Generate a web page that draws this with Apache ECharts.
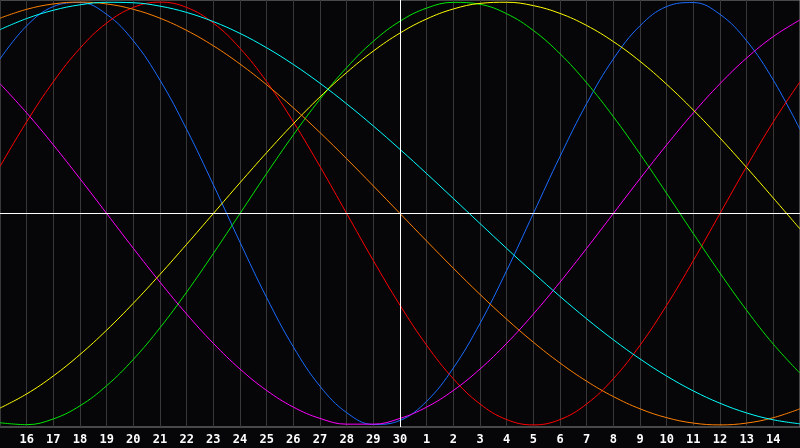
<!DOCTYPE html>
<html>
<head>
<meta charset="utf-8">
<script src="https://cdn.jsdelivr.net/npm/echarts@6/dist/echarts.min.js"></script>
<style>
html,body{margin:0;padding:0;background:#060609;}
#chart{width:800px;height:448px;}
</style>
</head>
<body>
<div id="chart"></div>
<script>
const days = ['15','16','17','18','19','20','21','22','23','24','25','26','27','28','29','30',
  '1','2','3','4','5','6','7','8','9','10','11','12','13','14','15'];
const todayIndex = 15;

// cycle values per day (range -1..1)
const blue23 = [0.731,0.888,0.979,0.998,0.942,0.817,0.631,0.398,0.136,-0.136,-0.398,-0.631,-0.817,-0.942,-0.998,-0.979,-0.888,-0.731,-0.520,-0.270,0,0.270,0.520,0.731,0.888,0.979,0.998,0.942,0.817,0.631,0.398];
const red28 = [0.2225,0.4339,0.6235,0.7818,0.9010,0.9749,1,0.9749,0.9010,0.7818,0.6235,0.4339,0.2225,0,-0.2225,-0.4339,-0.6235,-0.7818,-0.9010,-0.9749,-1,-0.9749,-0.9010,-0.7818,-0.6235,-0.4339,-0.2225,0,0.2225,0.4339,0.6235];
const green33 = [-0.9898,-0.9989,-0.9718,-0.9096,-0.8146,-0.6901,-0.5406,-0.3717,-0.1893,0,0.1893,0.3717,0.5406,0.6901,0.8146,0.9096,0.9718,0.9989,0.9898,0.9450,0.8660,0.7557,0.6182,0.4582,0.2817,0.0951,-0.0951,-0.2817,-0.4582,-0.6182,-0.7557];
const magenta38 = [0.6142,0.4759,0.3247,0.1646,0,-0.1646,-0.3247,-0.4759,-0.6142,-0.7357,-0.8372,-0.9158,-0.9694,-0.9966,-0.9966,-0.9694,-0.9158,-0.8372,-0.7357,-0.6142,-0.4759,-0.3247,-0.1646,0,0.1646,0.3247,0.4759,0.6142,0.7357,0.8372,0.9158];
const yellow43 = [-0.9204,-0.8536,-0.7685,-0.6671,-0.5517,-0.4245,-0.2881,-0.1456,0,0.1456,0.2881,0.4245,0.5517,0.6671,0.7685,0.8536,0.9204,0.9675,0.9940,0.9993,0.9834,0.9465,0.8894,0.8133,0.7200,0.6111,0.4894,0.3572,0.2174,0.0730,-0.0730];
const orange48 = [0.9239,0.9659,0.9914,1,0.9914,0.9659,0.9239,0.8660,0.7934,0.7071,0.6088,0.5,0.3827,0.2588,0.1305,0,-0.1305,-0.2588,-0.3827,-0.5,-0.6088,-0.7071,-0.7934,-0.8660,-0.9239,-0.9659,-0.9914,-1,-0.9914,-0.9659,-0.9239];
const cyan53 = [0.8699,0.9222,0.9615,0.9872,0.9991,0.9970,0.9809,0.9511,0.9078,0.8519,0.7839,0.7050,0.6161,0.5186,0.4139,0.3034,0.1886,0.0710,-0.0475,-0.1652,-0.2807,-0.3922,-0.4983,-0.5973,-0.6880,-0.7690,-0.8393,-0.8976,-0.9435,-0.9760,-0.9949];

const seriesDefs = [
  {name:'23', data: blue23, color:'#1a6cff'},
  {name:'28', data: red28, color:'#ff0000'},
  {name:'33', data: green33, color:'#00e600'},
  {name:'38', data: magenta38, color:'#ff00ff'},
  {name:'43', data: yellow43, color:'#ffff00'},
  {name:'48', data: orange48, color:'#ff8000'},
  {name:'53', data: cyan53, color:'#00ffff'}
];

const chart = echarts.init(document.getElementById('chart'), null, {renderer:'canvas'});
const series = seriesDefs.map((s, i) => ({
  name: s.name,
  type: 'line',
  data: s.data,
  smooth: 0.4,
  showSymbol: false,
  symbol: 'none',
  lineStyle: {color: s.color, width: 1},
  itemStyle: {color: s.color},
  z: 3,
  animation: false
}));
series.push({
  type: 'line',
  data: [],
  silent: true,
  animation: false,
  z: 2,
  markLine: {
    silent: true,
    symbol: ['none','none'],
    label: {show: false},
    lineStyle: {color: '#ffffff', type: 'solid', width: 1},
    animation: false,
    data: [{xAxis: todayIndex}, {yAxis: 0}]
  }
});

const lastIndex = days.length - 1;
chart.setOption({
  backgroundColor: '#060609',
  animation: false,
  grid: {left: 0, right: 0, top: 0, bottom: 21, containLabel: false, outerBoundsMode: 'none',
    show: true, borderColor: '#8a8a8a', borderWidth: 1, backgroundColor: 'transparent'},
  xAxis: {
    type: 'category',
    data: days,
    boundaryGap: false,
    axisTick: {show: false},
    axisLine: {show: true, lineStyle: {color: '#9a9a9a', width: 1}},
    splitLine: {show: true, interval: 0, lineStyle: {color: '#383838', width: 1}},
    axisLabel: {
      show: true, interval: 0, hideOverlap: false,
      formatter: (v, i) => (i === 0 || i === lastIndex) ? '' : v,
      color: '#ffffff', fontFamily: 'DejaVu Sans Mono', fontWeight: 'bold', fontSize: 12, margin: 7
    }
  },
  yAxis: {
    type: 'value',
    min: -1.01, max: 1.01,
    axisLine: {show: false}, axisTick: {show: false}, axisLabel: {show: false},
    splitLine: {show: false}
  },
  series: series
});
</script>
</body>
</html>
